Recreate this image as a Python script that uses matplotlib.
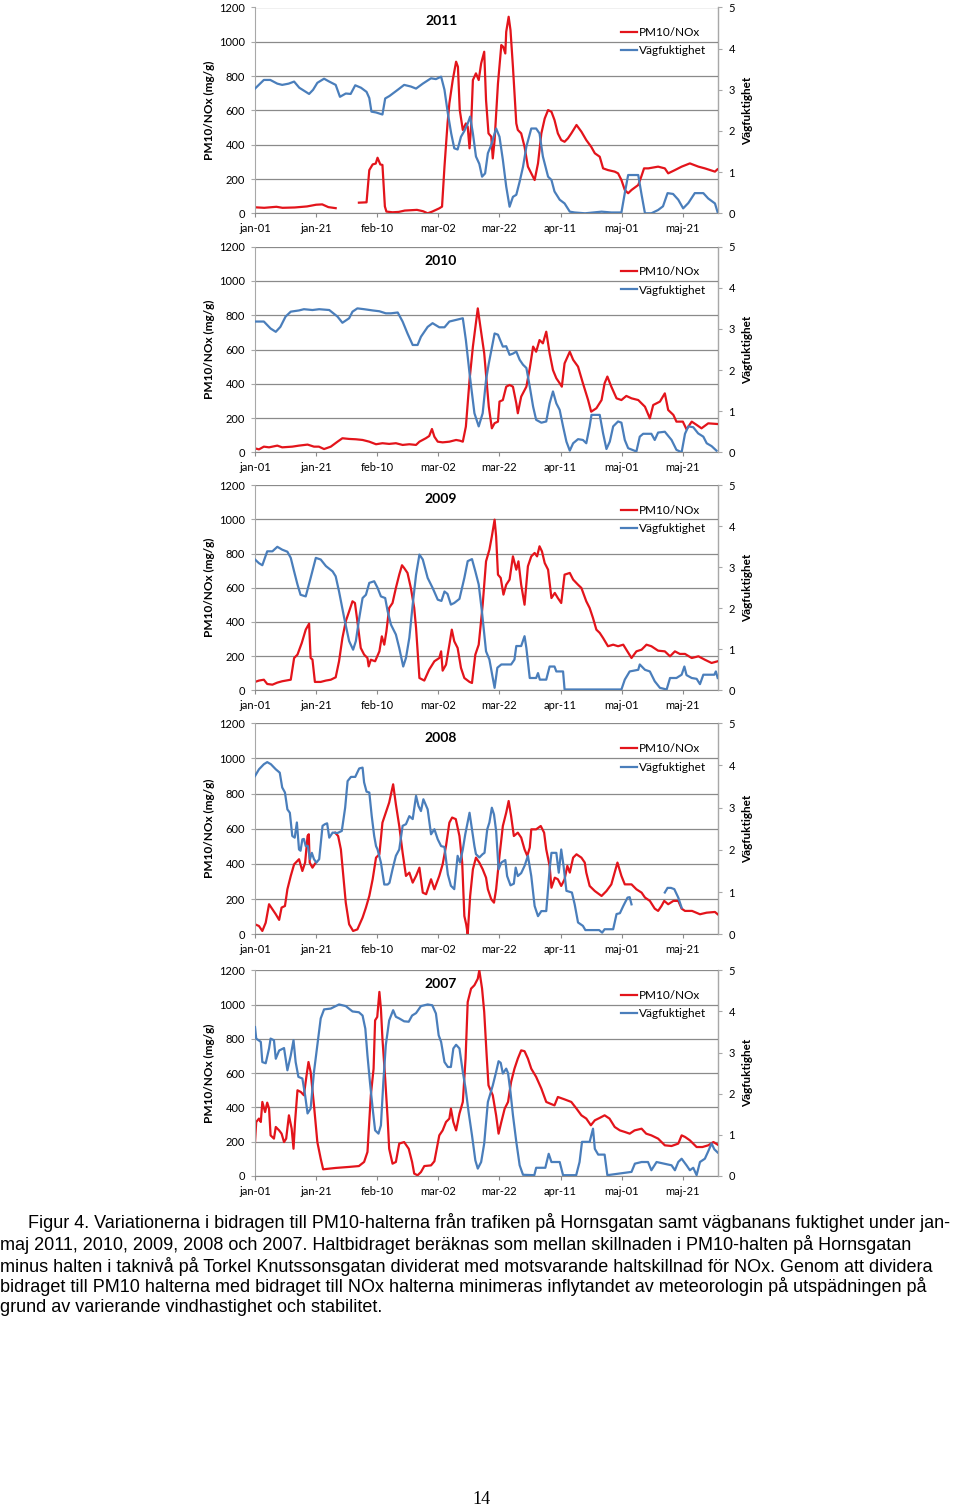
import numpy as np
import matplotlib
matplotlib.use('Agg')
import matplotlib.pyplot as plt
from matplotlib.lines import Line2D

nan = float('nan')

# ---------------- data: (day index from 1 Jan, value) ----------------
tick_days = [0, 20, 40, 60, 80, 100, 120, 140]
tick_labels = ['jan-01', 'jan-21', 'feb-10', 'mar-02', 'mar-22', 'apr-11', 'maj-01', 'maj-21']
left_ticks = [0, 200, 400, 600, 800, 1000, 1200]
right_ticks = [0, 1, 2, 3, 4, 5]

pm_2011 = [(0,35),(3,32),(7,38),(9,32),(13,34),(17,40),(20,50),(22,52),(24,36),(26.4,30),(30,nan),
           (34,62),(36.5,64),(37.4,252),(38.5,285),(39.5,290),(40.1,324),(41,285),(41.7,282),(42.5,40),
           (43,10),(45,6),(47,8),(49,16),(51,18),(53,20),(55,12),(56.5,0),(58,10),(60.3,29),(61.2,39),
           (62,272),(63,524),(63.6,641),(64.7,777),(65.8,884),(66.4,854),(67,602),(68,486),(69,524),
           (69.6,505),(70.2,379),(70.7,505),(71.3,777),(72.3,816),(73.2,777),(74,874),(75,942),(75.6,660),
           (76.4,466),(77.3,447),(77.8,320),(78.4,427),(79.5,757),(80.6,981),(81.2,971),(81.9,932),
           (82.2,1058),(83,1146),(83.6,1068),(84.4,854),(85.5,524),(86,486),(87.1,466),(88.2,388),
           (89.3,272),(90.4,233),(91.5,194),(92.6,291),(93.7,466),(94.8,553),(95.9,602),(97,592),
           (98,544),(99.1,466),(100.2,427),(101.3,417),(102.4,437),(103.5,466),(105.2,515),(106.8,476),
           (108.4,427),(110,388),(111.2,350),(112.8,330),(113.9,262),(115.5,252),(117.7,243),(118.8,233),
           (119.9,194),(121,136),(122.1,117),(123.2,136),(125.4,165),(126.4,214),(127.3,262),(128.7,262),
           (131.9,272),(134.1,262),(135.2,233),(137.4,252),(139.6,272),(142.3,291),(145.1,272),
           (147.2,262),(150.5,243),(151.3,256)]
vf_2011 = [(0,3.03),(2.9,3.24),(5,3.24),(7.3,3.15),(8.9,3.12),(11,3.15),(12.8,3.2),(14.5,3.05),(16,2.98),
           (17.7,2.9),(19,3.0),(20.4,3.17),(22.6,3.27),(24.3,3.2),(26.4,3.12),(27.8,2.83),(29.7,2.91),
           (31.3,2.9),(32.8,3.11),(34.7,3.05),(36.5,2.95),(37.4,2.8),(38.1,2.47),(39.6,2.45),(41.7,2.4),
           (42.6,2.79),(44,2.85),(46.7,3.0),(48.8,3.12),(51,3.08),(52.7,3.03),(54.9,3.15),(57.6,3.28),
           (59.2,3.26),(60.9,3.32),(62,3.0),(63.1,2.43),(64.2,1.94),(65.2,1.58),(66.3,1.55),(67.4,1.86),
           (68.5,2.0),(69.6,2.18),(70.4,2.35),(71.3,1.94),(72.3,1.38),(73.4,1.2),(74.3,0.89),(75.3,0.97),
           (76.2,1.46),(77.3,1.66),(78.9,2.06),(80,1.86),(81.1,1.3),(82.2,0.65),(83.3,0.16),(84.4,0.4),
           (85.5,0.45),(86.6,0.77),(87.7,1.13),(88.8,1.62),(90.4,2.06),(92,2.06),(93.1,1.94),(94.2,1.38),
           (95.9,0.89),(97,0.81),(98,0.53),(99.7,0.33),(101.3,0.24),(103,0.04),(104.6,0.02),(108,0.0),
           (113.4,0.04),(116.6,0.02),(119.9,0.02),(121,0.49),(122.1,0.93),(125.4,0.93),(126.5,0.45),
           (127.6,0.0),(129.7,0.0),(131.9,0.08),(133.5,0.17),(135,0.49),(136.8,0.47),(138.5,0.33),
           (140.1,0.12),(141.8,0.25),(143.9,0.49),(146.7,0.49),(148.3,0.36),(150.5,0.24),(151.4,0.02)]

pm_2010 = [(0,23),(1.3,17),(2.9,33),(4.6,29),(7.3,39),(8.9,29),(12.2,33),(14.4,39),(17.2,45),(19.3,33),
           (20.9,33),(22.6,19),(24.8,33),(27,62),(28.6,82),(30.8,78),(33,76),(35.2,72),(37.4,62),(39.6,47),
           (41.7,53),(43.9,49),(46.1,53),(48.3,43),(50.5,47),(52.7,43),(53.8,62),(55.9,82),(57,95),
           (57.9,136),(58.7,91),(59.8,62),(61.4,58),(63.6,62),(65.8,72),(67,68),(68,62),(69,150),(70.2,422),
           (71.3,617),(72.9,840),(73.9,714),(75,578),(76.5,266),(77.5,140),(78.4,170),(79.5,179),(80,296),
           (81.1,305),(82.2,383),(83.3,393),(84.4,383),(85.5,286),(86,228),(87.1,325),(88.8,383),(89.9,490),
           (91,617),(92,587),(93.1,655),(94.2,636),(95.3,704),(96.4,578),(97.5,480),(98.6,432),(99.7,403),
           (100.4,383),(101.3,519),(103,587),(104.1,540),(105.7,500),(107.3,403),(109,305),(110,237),
           (111.7,257),(113.4,305),(114.4,403),(115.3,442),(116.6,383),(118.3,315),(119.9,305),(121.5,329),
           (123.2,315),(125.4,305),(127.6,266),(129.2,198),(130.3,276),(132.5,296),(134.1,344),(135.2,247),
           (136.9,218),(137.9,179),(140,179),(141.2,134),(142.9,179),(144.5,160),(146.1,140),(148.3,169),
           (151.4,165)]
vf_2010 = [(0,3.18),(2.9,3.18),(5.1,3.01),(6.8,2.93),(8.3,3.05),(10,3.3),(11.7,3.42),(14.4,3.45),(16,3.48),
           (18.8,3.46),(21,3.48),(24.3,3.46),(27,3.3),(28.6,3.15),(30.8,3.26),(31.9,3.42),(33.5,3.5),
           (35.7,3.48),(38.5,3.45),(40.7,3.43),(42.8,3.38),(44.5,3.38),(46.7,3.4),(48.3,3.18),(49.9,2.89),
           (51.6,2.61),(53.2,2.61),(54.3,2.81),(56.5,3.05),(58.1,3.14),(60.3,3.04),(62,3.04),(63.6,3.18),
           (65.8,3.22),(68,3.26),(69,2.73),(70.2,1.92),(71.8,0.95),(73.2,0.63),(74.5,0.95),(75.6,1.76),
           (76.5,2.16),(78.4,2.89),(79.5,2.86),(81.1,2.57),(82.2,2.58),(83.3,2.37),(84.4,2.4),(85.5,2.45),
           (86.6,2.25),(87.7,2.13),(88.8,2.05),(89.9,1.6),(91,1.11),(92,0.79),(93.7,0.72),(95.3,0.75),
           (96.4,1.19),(97.5,1.48),(98.6,1.19),(99.7,1.03),(100.8,0.63),(101.9,0.26),(103,0.04),(104.1,0.22),
           (105.7,0.32),(107.3,0.3),(108.4,0.22),(109.5,0.63),(110.1,0.91),(112.8,0.91),(113.9,0.46),
           (115,0.08),(116.1,0.26),(117.2,0.63),(118.8,0.75),(119.9,0.72),(121,0.3),(122.1,0.1),(124.8,0.02),
           (125.9,0.38),(127,0.45),(129.7,0.45),(130.8,0.3),(131.9,0.48),(134.1,0.5),(136.3,0.3),
           (137.9,0.06),(139.6,0.0),(140.7,0.45),(141.8,0.63),(143.4,0.61),(145,0.46),(146.7,0.38),
           (147.8,0.22),(149.4,0.15),(151,0.04)]

pm_2009 = [(0,49),(1.3,57),(2.9,62),(4,37),(5.7,33),(7.3,45),(8.9,53),(11.7,62),(12.8,189),(13.9,209),
           (15.3,277),(16.6,355),(17.7,390),(18.2,189),(18.8,180),(19.6,49),(21.5,49),(23.2,57),(24.8,62),
           (26.4,76),(27.5,170),(28.6,306),(29.7,404),(30.8,462),(31.9,521),(32.7,511),(33.5,404),(34.6,248),
           (35.7,209),(36.8,189),(37.2,140),(37.9,179),(39.3,170),(40.7,228),(41.5,316),(42.3,267),(43,345),
           (43.9,482),(45,511),(46.1,599),(47.2,677),(48.1,732),(48.8,716),(49.9,687),(51,599),(52.1,482),
           (52.7,365),(53.8,72),(55.4,57),(57,121),(58.7,170),(60.3,189),(60.9,228),(61.4,115),(62.5,150),
           (63.6,267),(64.4,355),(65.2,287),(66.3,248),(67.4,131),(68.5,72),(70.2,49),(71,43),(72.1,209),
           (73.2,267),(74.5,501),(75.6,755),(76.7,823),(77.5,901),(78.4,999),(78.9,901),(79.5,677),
           (80.4,658),(81.3,560),(82.2,618),(83.3,648),(84.4,784),(85.5,706),(86.2,755),(87.1,618),
           (88.2,501),(89.3,726),(90.4,784),(91.5,804),(92.3,784),(93.1,843),(93.9,813),(94.8,745),
           (95.9,706),(97,540),(98.1,570),(99.1,540),(100.2,511),(101.3,677),(103,687),(104.1,648),
           (105.7,618),(106.8,599),(108.4,521),(109.5,482),(110.6,423),(111.7,355),(112.8,336),(113.9,306),
           (115.5,258),(117.2,267),(118.8,258),(120.5,267),(121.5,238),(123.2,189),(124.8,228),(126.5,238),
           (128.1,267),(129.7,258),(131.9,232),(134.1,228),(135.8,199),(137.4,228),(139,213),(140.7,213),
           (142.9,189),(145.1,199),(147.2,179),(149.4,160),(151.4,170)]
vf_2009 = [(0,3.19),(1.3,3.1),(2.4,3.05),(4,3.39),(5.7,3.39),(7.3,3.5),(8.9,3.43),(10.6,3.38),(11.7,3.23),
           (12.8,2.9),(13.9,2.58),(14.9,2.33),(16.6,2.29),(18.2,2.74),(19.9,3.23),(21.5,3.19),(23.2,3.03),
           (25.4,2.9),(26.4,2.78),(27.5,2.41),(29.2,1.76),(30.8,1.2),(32.1,0.99),(33,1.2),(34.1,1.76),
           (35.2,2.25),(36.3,2.33),(37.4,2.62),(39,2.66),(40.1,2.5),(41.2,2.29),(42.6,2.25),(43.4,1.93),
           (44.5,1.6),(46.1,1.36),(47.2,1.03),(48.5,0.58),(49.4,0.79),(50.5,1.28),(51.6,2.09),(52.7,2.82),
           (53.8,3.31),(54.9,3.19),(56.5,2.74),(58.1,2.5),(59.8,2.21),(61,2.18),(62,2.41),(63,2.35),
           (64.1,2.09),(65.2,2.13),(66.9,2.23),(68.5,2.74),(69.6,3.15),(71,3.2),(72.1,2.9),(73.2,2.58),
           (74.3,1.89),(75.6,0.95),(76.7,0.75),(77.8,0.3),(78.4,0.06),(79.3,0.55),(80.6,0.63),(83.8,0.63),
           (84.9,0.75),(85.5,1.08),(87.1,1.08),(88.2,1.32),(88.8,1.03),(89.9,0.3),(92,0.3),(92.6,0.42),
           (93.2,0.26),(95.3,0.26),(96.4,0.58),(98,0.58),(98.6,0.46),(100.8,0.46),(101.3,0.02),(119.9,0.02),
           (121,0.26),(122.6,0.46),(125.4,0.5),(125.9,0.63),(127.6,0.5),(129.2,0.46),(130.8,0.22),
           (132.5,0.06),(134.7,0.02),(135.8,0.3),(137.9,0.3),(139.6,0.38),(140.5,0.58),(141.2,0.37),
           (142.9,0.3),(144.5,0.28),(145.6,0.15),(146.7,0.38),(150.3,0.38),(150.8,0.46),(151.4,0.3)]

pm_2008 = [(0,57),(1.3,47),(2.4,19),(3.5,66),(4.6,171),(5.7,142),(6.8,114),(7.9,82),(8.7,152),(9.8,161),
           (10.6,256),(11.7,332),(12.8,398),(14.4,427),(15.5,360),(16.4,408),(17.2,559),(17.6,569),
           (17.9,408),(18.8,379),(19.9,408),(23,nan),(26.2,578),(27.2,559),(28.1,483),(28.9,332),(29.7,180),
           (30.8,57),(32.1,19),(33.5,28),(35.2,95),(36.3,152),(37.4,218),(38.5,313),(39.6,436),(40.7,455),
           (41.7,635),(42.8,692),(43.9,749),(45.2,853),(46.1,739),(47.2,616),(48.3,464),(49.4,332),
           (50.5,351),(51.6,294),(52.7,332),(53.8,379),(54.9,237),(56,228),(57.6,313),(58.7,256),(60.3,332),
           (61.4,398),(62.5,502),(63.6,635),(64.5,664),(65.7,655),(66.9,559),(67.8,408),(68.5,104),
           (69.1,57),(69.6,0),(70.4,218),(71.3,370),(72.3,436),(73.4,408),(74.5,370),(75.6,322),(76.2,256),
           (77.3,199),(78.2,180),(78.9,256),(80,446),(81.1,616),(82.2,692),(83,758),(83.8,673),(84.7,559),
           (86,578),(87.1,550),(88.2,483),(89.1,446),(89.9,493),(90.4,597),(92,597),(93.5,616),(94.6,578),
           (95.3,483),(96.4,389),(97,265),(98.1,322),(99.1,313),(100.2,275),(101.3,313),(102.2,389),
           (103,351),(104.1,436),(105.2,455),(106.8,436),(107.9,408),(108.4,351),(109.5,275),(111.2,246),
           (113.4,218),(115,246),(116.6,284),(117.7,351),(118.6,408),(119.9,332),(121,284),(123.2,284),
           (124.8,256),(126.5,237),(127.6,209),(129.2,190),(130.8,146),(131.9,133),(133,161),(133.9,190),
           (135.2,171),(136.9,190),(138.5,190),(139.6,146),(140.7,133),(143,133),(145.6,114),(147.8,123),
           (150.5,127),(151.4,114)]
vf_2008 = [(0,3.75),(1.3,3.91),(2.9,4.03),(4,4.08),(5.2,4.03),(6.8,3.91),(8.1,3.83),(8.9,3.48),(9.8,3.36),
           (10.6,2.96),(11.4,2.88),(12.2,2.33),(13,2.29),(13.7,2.65),(14.4,2.01),(14.9,1.98),(15.5,2.25),
           (16,2.26),(16.6,2.09),(17.3,2.09),(18,1.78),(18.6,1.93),(19.3,1.78),(20.1,1.7),(21,1.78),
           (22.1,2.57),(22.9,2.61),(23.6,2.63),(24.3,2.29),(25.4,2.41),(27,2.4),(28.4,2.45),(29.5,3.0),
           (30.3,3.63),(31.4,3.73),(32.8,3.73),(34.1,3.93),(35.2,3.95),(35.7,3.6),(36.5,3.38),(37.4,3.36),
           (38.2,2.8),(39,2.33),(39.6,2.09),(40.1,2.01),(41.2,1.7),(42.3,1.18),(43.4,1.18),(44,1.22),
           (45,1.54),(46.1,1.86),(47.2,2.01),(48.3,2.57),(49.4,2.61),(50.5,2.8),(51.6,2.73),(52.7,3.28),
           (53.5,3.04),(54.3,2.92),(55.1,3.2),(56.5,2.96),(57.6,2.37),(58.7,2.49),(59.8,2.25),(60.9,2.09),
           (62,2.07),(63.1,1.42),(64.1,1.15),(65.2,1.07),(66.3,1.86),(67.1,1.7),(68,2.01),(68.8,2.37),
           (70.2,2.88),(71,2.49),(71.8,2.09),(72.3,1.9),(73.4,1.82),(74.5,1.9),(75.1,1.93),(76,2.49),
           (76.7,2.65),(77.5,3.0),(78.2,2.84),(78.9,2.45),(79.7,1.54),(80.6,1.7),(81.9,1.76),(82.5,1.38),
           (83.6,1.16),(84.7,1.2),(85.3,1.58),(86,1.38),(87.1,1.45),(88.2,1.62),(89.3,1.86),(90.4,1.38),
           (91.5,0.67),(92.6,0.43),(93.7,0.55),(95.3,0.55),(96.4,1.54),(97,1.93),(98.6,1.93),(99.4,1.46),
           (100.2,2.01),(101,1.6),(101.9,1.03),(103.7,0.99),(104.6,0.71),(105.7,0.28),(107.3,0.2),
           (108.1,0.1),(112.6,0.1),(113.6,0.04),(114.4,0.12),(117.2,0.12),(118.3,0.48),(119.4,0.5),
           (120.5,0.67),(121.9,0.87),(122.6,0.88),(123.2,0.71),(128,nan),(134.1,0.99),(135,1.1),(136.1,1.1),
           (137.2,1.07),(138.5,0.87),(139.6,0.63)]

pm_2007 = [(0,198),(0.4,315),(1.3,335),(1.9,315),(2.4,432),(3.3,373),(4,428),(4.6,393),(5.1,237),(6.2,218),
           (6.8,286),(7.9,266),(8.7,247),(9.5,198),(10.2,218),(11.1,354),(12,276),(12.6,159),(13.1,315),
           (13.9,500),(15,490),(16,471),(16.8,578),(17.5,665),(18.2,607),(19.3,412),(20.4,198),(21.5,101),
           (22.3,39),(24.3,43),(26.4,47),(30.8,53),(34,58),(35.7,82),(36.8,140),(37.9,471),(38.8,626),
           (39.3,908),(40,928),(40.7,1074),(41.2,976),(41.7,801),(42.6,568),(43.4,335),(43.9,159),(45,72),
           (46.1,82),(47.2,189),(48.8,198),(50.3,159),(51.4,82),(52.1,14),(53.2,4),(54.3,23),(55.4,58),
           (57.6,62),(58.7,86),(60.3,237),(61.4,266),(62.5,315),(63.6,335),(64.1,393),(64.9,315),(65.8,266),
           (66.9,364),(68,432),(68.9,685),(69.6,1015),(70.7,1093),(71.8,1113),(72.9,1151),(73.4,1200),
           (74.3,1093),(75,957),(75.8,704),(76.4,529),(77.8,471),(78.9,354),(79.7,247),(80.6,315),(81.7,393),
           (82.8,432),(83.8,549),(84.9,626),(86,685),(87.1,733),(88.2,728),(89.3,685),(90.4,626),(92,578),
           (93.7,510),(95.3,432),(96.6,422),(98,412),(99.1,461),(101.3,447),(103.5,432),(105.2,393),
           (106.8,354),(108.4,335),(109.9,296),(111.2,325),(112.8,339),(114.4,354),(116,335),(117.7,286),
           (119.4,266),(121,257),(122.6,247),(124.2,266),(126.5,276),(128,247),(129.7,237),(131.9,218),
           (134.1,179),(136.3,175),(138.5,189),(139.6,237),(140.7,228),(142.3,208),(144.5,169),(146.4,169),
           (148.3,179),(150,198),(151.4,183)]
vf_2007 = [(0,3.62),(0.4,3.34),(1.9,3.26),(2.4,2.77),(3.5,2.74),(4.6,3.1),(5.1,3.34),(6.2,3.3),(6.8,2.85),
           (7.9,3.05),(9.5,3.11),(10.6,2.57),(11.7,2.93),(12.6,3.3),(13.3,2.77),(14.2,2.41),(15.5,2.37),
           (16.4,1.96),(17.2,1.52),(18.2,1.64),(19.3,2.53),(20.4,3.18),(21.5,3.83),(22.6,4.05),(24.8,4.07),
           (27.5,4.17),(29.7,4.13),(31.9,4.0),(34,3.98),(35.2,3.9),(36.1,3.58),(36.8,2.93),(37.6,2.29),
           (38.5,1.64),(39.3,1.11),(40.4,1.03),(41.2,1.23),(42,2.29),(42.8,3.18),(43.9,3.78),(45.2,4.03),
           (46.1,3.87),(47.2,3.83),(48.8,3.76),(50.3,3.75),(51.4,3.9),(52.7,3.96),(54.3,4.13),(56.5,4.17),
           (58,4.15),(59.2,3.95),(60.1,3.42),(60.9,3.26),(62,2.77),(63.1,2.65),(64.1,2.65),(64.9,3.1),
           (65.8,3.19),(66.9,3.1),(68,2.53),(68.9,2.13),(69.9,1.55),(71,0.99),(72.1,0.38),(72.9,0.18),
           (74,0.34),(75,0.79),(76.2,1.8),(77.8,2.2),(78.9,2.53),(79.7,2.79),(80.4,2.75),(81.1,2.49),
           (82.2,2.61),(82.8,2.5),(83.6,2.04),(84.4,1.48),(85.5,0.83),(86.6,0.26),(87.7,0.03),(91.4,0.02),
           (92,0.2),(95,0.2),(96.1,0.54),(97,0.34),(99.7,0.34),(100.8,0.02),(105.1,0.02),(106.2,0.34),
           (107,0.83),(109.5,0.83),(110.6,1.15),(111.2,0.66),(112.3,0.52),(114.4,0.52),(115.3,0.02),
           (123.2,0.1),(124.3,0.3),(126.5,0.34),(128.6,0.34),(129.7,0.14),(131.4,0.34),(136.3,0.26),
           (137.4,0.14),(138.5,0.34),(139.6,0.42),(141.2,0.26),(142.3,0.14),(143.4,0.2),(144.5,0.02),
           (145.6,0.34),(147.2,0.42),(148.3,0.6),(149.4,0.79),(150.3,0.65),(151.4,0.57)]

years = ['2011', '2010', '2009', '2008', '2007']
pm_series = [pm_2011, pm_2010, pm_2009, pm_2008, pm_2007]
vf_series = [vf_2011, vf_2010, vf_2009, vf_2008, vf_2007]

caption_lines = [
    "Figur 4. Variationerna i bidragen till PM10-halterna från trafiken på Hornsgatan samt vägbanans fuktighet under jan-",
    "maj 2011, 2010, 2009, 2008 och 2007. Haltbidraget beräknas som mellan skillnaden i PM10-halten på Hornsgatan",
    "minus halten i taknivå på Torkel Knutssonsgatan dividerat med motsvarande haltskillnad för NOx. Genom att dividera",
    "bidraget till PM10 halterna med bidraget till NOx halterna minimeras inflytandet av meteorologin på utspädningen på",
    "grund av varierande vindhastighet och stabilitet.",
]
page_number = "14"

# ---------------- layout (pixels) ----------------
W, H = 960, 1509
RED = '#E3141B'
BLUE = '#4A7EBB'
GRID = '#8A8A8A'
SPINE = '#A8A8A8'
panel_px = [(7.5, 213.3), (246.7, 452.3), (485.3, 690.3), (723.3, 934.3), (970.3, 1176.0)]
x_left, x_right = 255, 718
CF = 'Lato'

fig = plt.figure(figsize=(W / 100, H / 100), dpi=100)

for year, pm, vf, (ytop, ybot) in zip(years, pm_series, vf_series, panel_px):
    ax = fig.add_axes([x_left / W, 1 - ybot / H, (x_right - x_left) / W, (ybot - ytop) / H])
    ax2 = ax.twinx()
    d1, v1 = zip(*pm)
    d2, v2 = zip(*vf)
    ax.plot(d1, v1, color=RED, lw=1.6, solid_joinstyle='round')
    ax2.plot(d2, v2, color=BLUE, lw=1.6, solid_joinstyle='round')

    ax.set_xlim(0, 151.5)
    ax.set_ylim(0, 1200)
    ax2.set_ylim(0, 5)
    ax.set_yticks(left_ticks)
    ax2.set_yticks(right_ticks)
    ax.set_xticks(tick_days)
    ax.set_xticklabels(tick_labels)
    ax.yaxis.grid(True, color=GRID, lw=0.9)
    ax.set_axisbelow(True)
    ax.spines['top'].set_visible(False)
    ax2.spines['top'].set_visible(False)
    ax.spines['left'].set_color(SPINE)
    ax.spines['bottom'].set_color(GRID)
    ax2.spines['right'].set_color(SPINE)
    ax2.spines['left'].set_visible(False)
    ax2.spines['bottom'].set_visible(False)
    ax.tick_params(axis='y', direction='out', length=3, color=SPINE, labelsize=8, pad=4)
    ax.tick_params(axis='x', direction='out', length=3, color=GRID, labelsize=8, pad=4)
    ax2.tick_params(axis='y', direction='out', length=3, color=SPINE, labelsize=8, pad=4.5)
    for lab in ax.get_xticklabels() + ax.get_yticklabels() + ax2.get_yticklabels():
        lab.set_fontfamily(CF)

    ax.text(0.402, 0.932, year, transform=ax.transAxes, ha='center', va='center',
            fontsize=10, fontweight='bold', family=CF)
    handles = [Line2D([], [], color=RED, lw=1.6), Line2D([], [], color=BLUE, lw=1.6)]
    ax2.legend(handles, ['PM10/NOx', 'Vägfuktighet'], loc='upper left', bbox_to_anchor=(0.79, 0.905),
               frameon=False, handlelength=1.35, handletextpad=0.15, labelspacing=0.62,
               borderpad=0, borderaxespad=0, prop={'family': CF, 'size': 8.5})

    yc = 1 - (ytop + ybot) / 2 / H
    fig.text(209 / W, yc, 'PM10/NOx (mg/g)', rotation=90, ha='center', va='center',
             fontsize=8.5, family=CF, fontweight='bold')
    fig.text(748 / W, yc, 'Vägfuktighet', rotation=90, ha='center', va='center',
             fontsize=8.5, family=CF, fontweight='bold')

cap_y = [1223, 1245, 1266, 1287, 1308]
for i, (line, y) in enumerate(zip(caption_lines, cap_y)):
    x = 28 if i == 0 else 0
    fig.text(x / W, 1 - y / H, line, ha='left', va='center', fontsize=13, family='Liberation Sans')

fig.text(481 / W, 1 - 1500 / H, page_number, ha='center', va='center', fontsize=13,
         family='Liberation Serif')

fig.savefig('out.png', dpi=100)
